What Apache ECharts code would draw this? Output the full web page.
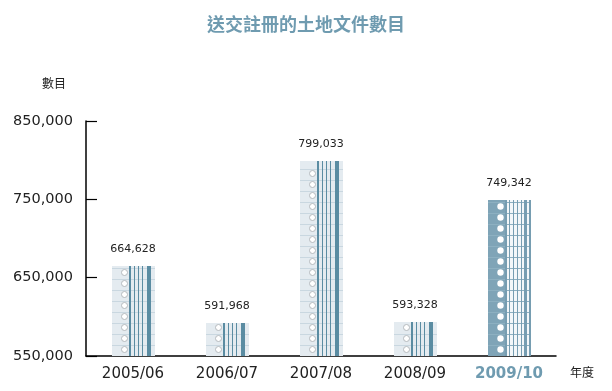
<!DOCTYPE html>
<html>
<head>
<meta charset="utf-8">
<script src="https://cdn.jsdelivr.net/npm/echarts@6/dist/echarts.min.js"></script>
<style>
html,body{margin:0;padding:0;background:#fff;}
#chart{width:612px;height:391px;}
</style>
</head>
<body>
<div id="chart"></div>
<script>
const titleText = '送交註冊的土地文件數目';
const yName = '數目';
const xName = '年度';
const categories = ['2005/06', '2006/07', '2007/08', '2008/09', '2009/10'];
const values = [664628, 591968, 799033, 593328, 749342];
const yMin = 550000, yMax = 850000, yInterval = 100000;
const highlightIndex = 4;

const accent = '#6f9bb0';
const chart = echarts.init(document.getElementById('chart'), null, {renderer: 'canvas'});

function fmt(v) { return Number(v).toLocaleString('en-US'); }

function renderItem(params, api) {
  const i = api.value(0);
  const v = api.value(1);
  const top = api.coord([i, v]);
  const base = api.coord([i, yMin]);
  const w = 43;
  const x0 = Math.round(top[0] - w / 2);
  const yTop = Math.round(top[1]), yBot = Math.round(base[1]);
  const h = yBot - yTop;
  const hl = i === highlightIndex;
  const rowH = 11;
  const ch = [];
  ch.push({type: 'rect', shape: {x: x0, y: yTop, width: w, height: h},
    style: {fill: hl ? '#7fa4b7' : '#e4ebf0'}});
  if (hl) {
    ch.push({type: 'rect', shape: {x: x0 + 17, y: yTop, width: 25, height: h}, style: {fill: '#f3f7f9'}});
  }
  // horizontal row lines
  for (let y = yBot - rowH + 0.5; y > yTop + 2; y -= rowH) {
    ch.push({type: 'line', shape: {x1: x0, y1: y, x2: x0 + w, y2: y},
      style: {stroke: hl ? '#8db0c1' : '#c9d7e0', lineWidth: 1}});
  }
  // vertical stripes
  const stripes = hl
    ? [[17, 2], [21, 1], [25, 1], [29, 1], [33, 1], [36, 3], [41, 2]]
    : [[17, 2], [22, 1], [26, 1], [30, 1], [35, 4]];
  stripes.forEach(s => {
    ch.push({type: 'rect', shape: {x: x0 + s[0], y: yTop, width: s[1], height: h},
      style: {fill: hl ? '#769db1' : '#5a8ca2'}});
  });
  // rings
  for (let c = yBot - 6.5; c > yTop + 3; c -= rowH) {
    ch.push({type: 'circle', shape: {cx: x0 + 12.5, cy: c, r: hl ? 3.2 : 3},
      style: hl ? {fill: '#ffffff'} : {fill: '#ffffff', stroke: '#b5babe', lineWidth: 1}});
  }
  ch.push({type: 'text', x: top[0], y: yTop - 11,
    style: {text: fmt(v), fill: '#222', font: '11px "DejaVu Sans"', align: 'center', verticalAlign: 'bottom'}});
  return {type: 'group', children: ch};
}

const option = {
  animation: false,
  backgroundColor: '#fff',
  title: {
    text: titleText, left: 'center', top: 10,
    textStyle: {color: accent, fontSize: 18, fontWeight: 'bold', fontFamily: '"Noto Sans CJK TC"'}
  },
  grid: {left: 86, right: 56, top: 121, bottom: 35, containLabel: false},
  xAxis: {
    type: 'category', data: categories,
    axisLine: {lineStyle: {color: '#000', width: 1.5}},
    axisTick: {inside: true, length: 7, interval: 0, lineStyle: {color: '#000', width: 1.2}},
    axisLabel: {
      interval: 0, margin: 11, fontFamily: '"DejaVu Sans"', fontSize: 15, color: '#222',
      formatter: (v, idx) => idx === highlightIndex ? '{hl|' + v + '}' : v,
      rich: {hl: {color: accent, fontWeight: 'bold', fontSize: 15, fontFamily: '"DejaVu Sans"'}}
    },
    splitLine: {show: false}
  },
  yAxis: {
    type: 'value', min: yMin, max: yMax, interval: yInterval,
    axisLine: {show: true, lineStyle: {color: '#000', width: 1.5}},
    axisTick: {show: true, inside: true, length: 11, lineStyle: {color: '#000', width: 1.2}},
    axisLabel: {margin: 13, fontFamily: '"DejaVu Sans"', fontSize: 14.5, color: '#222', formatter: fmt},
    splitLine: {show: false}
  },
  graphic: [
    {type: 'text', left: 42, top: 77, style: {text: yName, fill: '#222', font: '12px "Noto Sans CJK TC"'}},
    {type: 'text', left: 570, top: 366, style: {text: xName, fill: '#222', font: '12px "Noto Sans CJK TC"'}}
  ],
  series: [{
    type: 'custom',
    renderItem: renderItem,
    encode: {x: 0, y: 1},
    data: values.map((v, i) => [i, v]),
    clip: false
  }]
};
chart.setOption(option);
</script>
</body>
</html>
